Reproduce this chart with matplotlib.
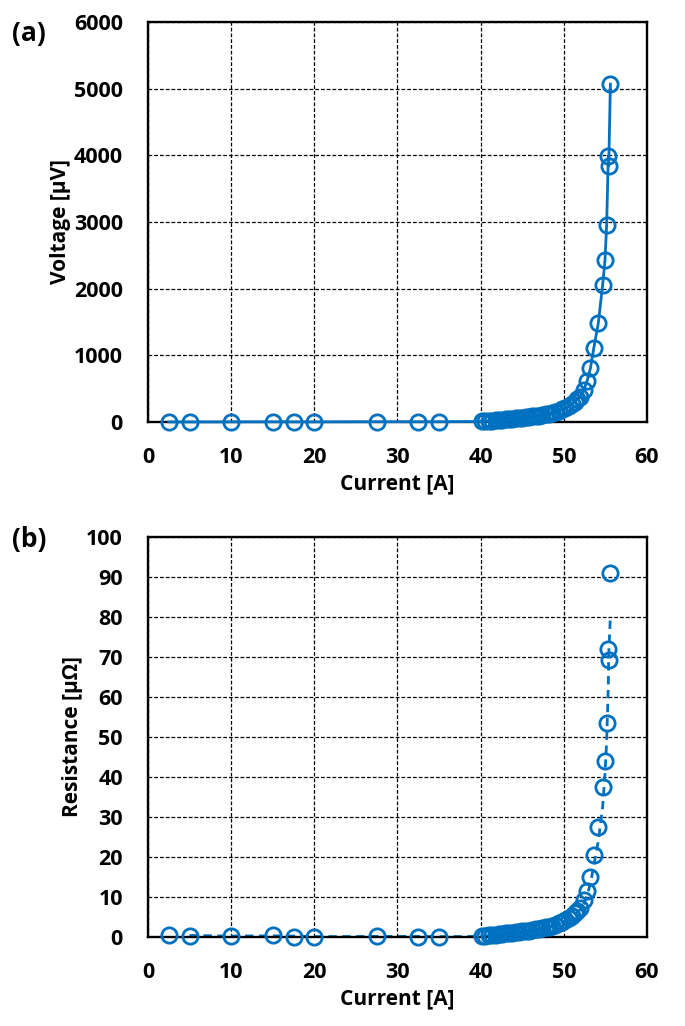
import numpy as np
import matplotlib
matplotlib.use("Agg")
import matplotlib.pyplot as plt

# ==========================================
# DATA
# ==========================================

current = [2.5, 5, 10, 15, 17.5, 20, 27.5, 32.5, 35,
           40.2, 40.5, 41.0, 41.4, 41.8, 42.2, 42.6, 43.0, 43.4, 43.8,
           44.2, 44.6, 45.0, 45.4, 45.8, 46.2, 46.6, 47.0, 47.4, 47.8,
           48.2, 48.6, 49.0, 49.4, 49.8, 50.2, 50.6, 51.0, 51.3, 51.6,
           52.0, 52.4, 52.8, 53.2, 53.6, 54.15, 54.67, 54.95, 55.15,
           55.35, 55.4, 55.6]

voltage = [1, 1, 2, 3, 2, 2, 4, 4, 4,
           8, 12, 16, 21, 25, 30, 34, 39, 44, 49,
           54, 58, 63, 68, 73, 83, 89, 95, 105, 115,
           126, 136, 152, 168, 189, 211, 238, 272, 305, 338,
           380, 480, 615, 805, 1105, 1485, 2055, 2425, 2955,
           3990, 3840, 5065]

resistance = [0.5, 0.3, 0.2, 0.4, 0.1, 0.1, 0.2, 0.1, 0.1,
              0.2, 0.3, 0.4, 0.5, 0.6, 0.7, 0.8, 0.9, 1.0, 1.1,
              1.2, 1.3, 1.4, 1.5, 1.6, 1.8, 1.9, 2.0, 2.2, 2.4,
              2.6, 2.8, 3.1, 3.4, 3.8, 4.2, 4.7, 5.3, 5.9, 6.5,
              7.3, 9.2, 11.6, 15.1, 20.6, 27.4, 37.6, 44.1, 53.6,
              72.0, 69.3, 91.1]

x_ticks = [0, 10, 20, 30, 40, 50, 60]
v_ticks = [0, 1000, 2000, 3000, 4000, 5000, 6000]
r_ticks = [0, 10, 20, 30, 40, 50, 60, 70, 80, 90, 100]

assert len(current) == len(voltage) == len(resistance)

# 2-point moving average trend line (as in the spreadsheet chart)
trend_x = current[1:]
trend_y = np.convolve(resistance, [0.5, 0.5], mode="valid")

# ==========================================
# STYLE
# ==========================================

plt.rcParams["font.family"] = ["Open Sans", "DejaVu Sans"]
plt.rcParams["font.weight"] = "bold"

BLUE = "#0070C0"
FS = 15.5

fig = plt.figure(figsize=(6.85, 10.26), dpi=100)
ax1 = fig.add_axes([0.216, 0.5887, 0.7285, 0.39])
ax2 = fig.add_axes([0.216, 0.0867, 0.7285, 0.39])


def style_axes(ax, yticks, ylabel):
    ax.set_xlim(0, 60)
    ax.set_ylim(yticks[0], yticks[-1])
    ax.set_xticks(x_ticks)
    ax.set_yticks(yticks)
    ax.grid(True, color="black", linestyle=(0, (3, 1.6)), linewidth=0.9)
    ax.set_axisbelow(True)
    for s in ax.spines.values():
        s.set_linewidth(1.7)
        s.set_color("black")
    ax.tick_params(length=0, pad=18, labelsize=FS)
    for lab in ax.get_xticklabels() + ax.get_yticklabels():
        lab.set_fontweight("bold")
    ax.set_xlabel("Current [A]", fontsize=FS - 0.5, fontweight="bold", labelpad=4)
    ax.set_ylabel(ylabel, fontsize=FS - 0.5, fontweight="bold", labelpad=2)


# ==========================================
# (a) VOLTAGE
# ==========================================

ax1.plot(current, voltage, color=BLUE, linewidth=2.0, marker="o",
         markersize=11, markerfacecolor="none", markeredgewidth=2.0,
         markeredgecolor=BLUE, clip_on=False, zorder=3)
style_axes(ax1, v_ticks, "Voltage [µV]")

# ==========================================
# (b) RESISTANCE
# ==========================================

ax2.plot(trend_x, trend_y, color=BLUE, linewidth=2.0, linestyle=(0, (3, 2)),
         zorder=2)
ax2.plot(current, resistance, linestyle="none", marker="o", markersize=11,
         markerfacecolor="none", markeredgewidth=2.0, markeredgecolor=BLUE,
         clip_on=False, zorder=3)
style_axes(ax2, r_ticks, "Resistance [µΩ]")

fig.text(0.018, 0.967, "(a)", fontsize=19, fontweight="bold", va="center")
fig.text(0.018, 0.474, "(b)", fontsize=19, fontweight="bold", va="center")

fig.savefig("out.png", dpi=100, facecolor="white")
